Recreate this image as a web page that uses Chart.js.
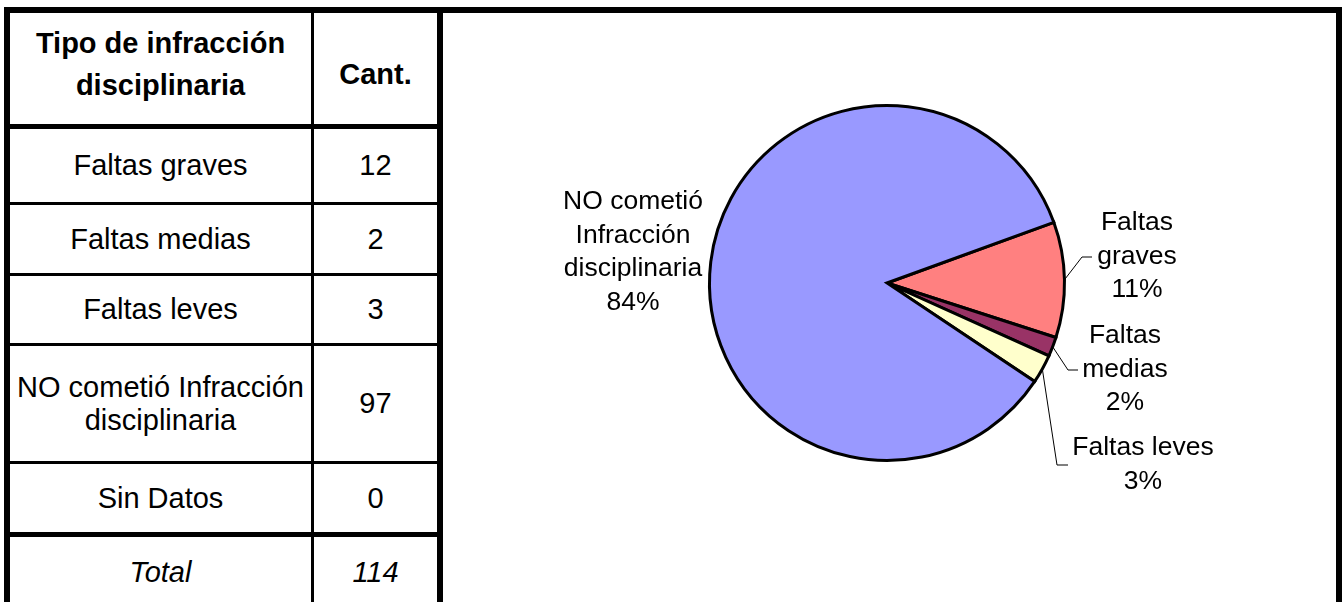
<!DOCTYPE html>
<html>
<head>
<meta charset="utf-8">
<script src="https://cdn.jsdelivr.net/npm/chart.js@4.4.1/dist/chart.umd.min.js"></script>
<style>
  html, body { margin: 0; padding: 0; background: #fff; width: 1342px; height: 602px; overflow: hidden; }
  body { position: relative; font-family: "Liberation Sans", Arial, sans-serif; color: #000; }
  #frame { position: absolute; left: 4px; top: 7px; width: 1326px; height: 700px; border: 6px solid #000; }
  #tabla { position: absolute; left: 0; top: 0; width: 427px; height: 700px; border-right: 6px solid #000; }
  .fila { display: flex; box-sizing: border-box; border-bottom: 3px solid #000; font-size: 29px; }
  .fila div { display: flex; align-items: center; justify-content: center; text-align: center; box-sizing: border-box; }
  .fila .tipo { width: 304px; border-right: 3px solid #000; }
  .fila .cant { flex: 1; }
  .enc .tipo { padding-bottom: 10px; }
  .enc .cant { padding-top: 10px; }
  #grafico { position: absolute; left: 433px; top: 0; }
</style>
</head>
<body>
<div id="frame">
  <div id="tabla"></div>
  <canvas id="grafico" width="893" height="589"></canvas>
</div>
<script>
// datos de la tabla
const encabezado = ["Tipo de infracción disciplinaria", "Cant."];
const categorias = ["Faltas graves", "Faltas medias", "Faltas leves", "NO cometió Infracción disciplinaria", "Sin Datos"];
const cantidades = [12, 2, 3, 97, 0];
const totalTexto = "Total";
// porcentajes tal como aparecen en el grafico
const porcentajes = ["11%", "2%", "3%", "84%", "0%"];

const coloresTorta = ["#FF8080", "#993366", "#FFFFCC", "#9999FF", "#FFFFFF"];

// alto de cada fila y grosor de la linea inferior
const filas = [
  { h: 116, b: 5, lh: 42, bold: true, cls: "enc" },
  { h: 76, b: 3 }, { h: 71, b: 3 }, { h: 70, b: 3 },
  { h: 118, b: 3, lh: 33 }, { h: 73, b: 5 },
  { h: 70, b: 0, italic: true }
];

const tabla = document.getElementById("tabla");
const total = cantidades.reduce((a, b) => a + b, 0);
const textos = [encabezado].concat(categorias.map((c, i) => [c, String(cantidades[i])]), [[totalTexto, String(total)]]);
textos.forEach((t, i) => {
  const f = filas[i];
  const row = document.createElement("div");
  row.className = "fila" + (f.cls ? " " + f.cls : "");
  row.style.height = f.h + "px";
  row.style.borderBottomWidth = f.b + "px";
  if (f.lh) row.style.lineHeight = f.lh + "px";
  if (f.bold) row.style.fontWeight = "bold";
  if (f.italic) row.style.fontStyle = "italic";
  const a = document.createElement("div");
  a.className = "tipo";
  a.textContent = t[0];
  const b = document.createElement("div");
  b.className = "cant";
  b.textContent = t[1];
  row.appendChild(a);
  row.appendChild(b);
  tabla.appendChild(row);
});

// solo las porciones con valor
const idx = cantidades.map((v, i) => i).filter(i => cantidades[i] > 0);

// ubicacion de las etiquetas relativa al centro de la torta
const etiquetas = {
  "Faltas graves": { x: 250, y: -60, ancho: 90, guia: [[195, -26], [205, -26]] },
  "Faltas medias": { x: 238, y: 53, ancho: 90, guia: [[181, 87], [191, 87]] },
  "Faltas leves": { x: 256, y: 165, ancho: 160, guia: [[170, 182], [181, 182]] },
  "NO cometió Infracción disciplinaria": { x: -254, y: -81, ancho: 160 }
};

const pluginEtiquetas = {
  id: "etiquetas",
  afterDatasetsDraw(chart) {
    const ctx = chart.ctx;
    const meta = chart.getDatasetMeta(0);
    ctx.save();
    ctx.font = "26.5px 'Liberation Sans', Arial, sans-serif";
    ctx.fillStyle = "#000";
    ctx.strokeStyle = "#000";
    ctx.lineWidth = 1;
    ctx.textAlign = "center";
    ctx.textBaseline = "middle";
    meta.data.forEach((arc, k) => {
      const nombre = chart.data.labels[k];
      const e = etiquetas[nombre];
      if (!e) return;
      const p = arc.getProps(["x", "y", "startAngle", "endAngle", "outerRadius"], true);
      const cx = p.x, cy = p.y;
      if (e.guia) {
        const mid = (p.startAngle + p.endAngle) / 2;
        ctx.beginPath();
        ctx.moveTo(cx + Math.cos(mid) * p.outerRadius, cy + Math.sin(mid) * p.outerRadius);
        e.guia.forEach(q => ctx.lineTo(cx + q[0], cy + q[1]));
        ctx.stroke();
      }
      // partir el texto segun el ancho
      const palabras = nombre.split(" ");
      const lineas = [];
      let actual = "";
      palabras.forEach(w => {
        const prueba = actual ? actual + " " + w : w;
        if (actual && ctx.measureText(prueba).width > e.ancho) {
          lineas.push(actual);
          actual = w;
        } else actual = prueba;
      });
      lineas.push(actual);
      lineas.push(chart.data.datasets[0].porcentajes[k]);
      lineas.forEach((l, j) => ctx.fillText(l, cx + e.x, cy + e.y + j * 33.5));
    });
    ctx.restore();
  }
};

const ctxTorta = document.getElementById("grafico").getContext("2d");
const graficoTorta = new Chart(ctxTorta, {
  type: "pie",
  data: {
    labels: idx.map(i => categorias[i]),
    datasets: [{
      data: idx.map(i => cantidades[i]),
      porcentajes: idx.map(i => porcentajes[i]),
      backgroundColor: idx.map(i => coloresTorta[i]),
      borderColor: "#000",
      borderWidth: 3,
      borderJoinStyle: "miter"
    }]
  },
  options: {
    responsive: false,
    devicePixelRatio: 1,
    animation: false,
    rotation: 70,
    layout: { padding: { left: 0, right: 5, top: 91, bottom: 140 } },
    plugins: {
      legend: { display: false },
      tooltip: { enabled: false }
    }
  },
  plugins: [pluginEtiquetas]
});
</script>
</body>
</html>
